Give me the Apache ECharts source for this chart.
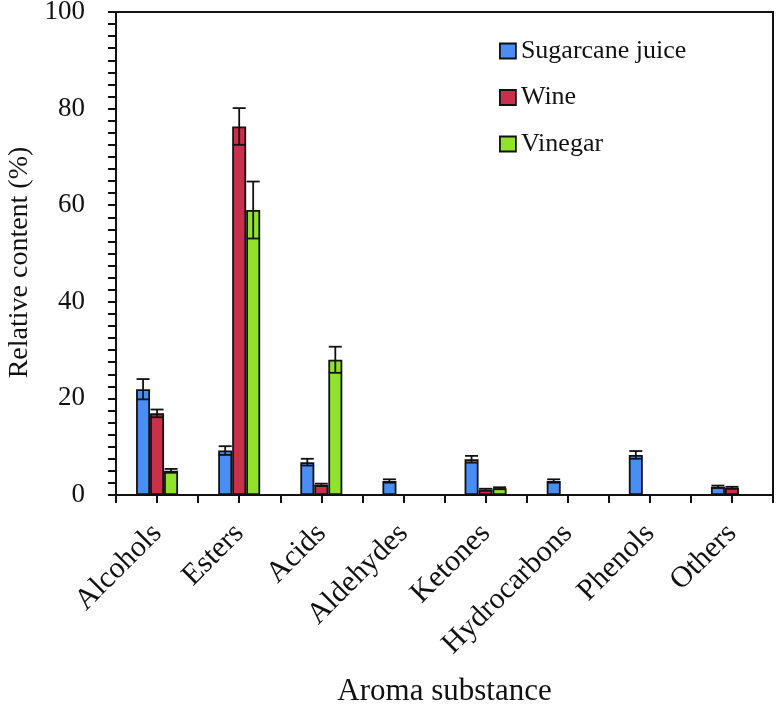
<!DOCTYPE html>
<html><head><meta charset="utf-8">
<script src="https://cdn.jsdelivr.net/npm/echarts@6/dist/echarts.min.js"></script>
<style>html,body{margin:0;padding:0;background:#fff}#c{width:776px;height:704px}</style>
</head><body><div id="c"></div>
<script>
const categories = ['Alcohols','Esters','Acids','Aldehydes','Ketones','Hydrocarbons','Phenols','Others'];
const seriesNames = ['Sugarcane juice','Wine','Vinegar'];
const sugarcane = [21.9, 9.2, 6.8, 2.9, 7.4, 2.9, 8.3, 1.7];
const sugarcaneErr = [2.1, 0.9, 0.7, 0.35, 0.7, 0.35, 0.8, 0.25];
const wine = [16.9, 76.3, 2.1, null, 1.1, null, null, 1.5];
const wineErr = [0.8, 3.8, 0.25, 0, 0.2, 0, 0, 0.2];
const vinegar = [5.0, 59.0, 28.0, null, 1.4, null, null, null];
const vinegarErr = [0.4, 5.9, 2.7, 0, 0.2, 0, 0, 0];
const yTicks = [0, 20, 40, 60, 80, 100];

const colors = ['#4a8df5', '#c8304b', '#90e22b'];
const FONT = '"Liberation Serif", "Times New Roman", serif';
const BAR_W = 14;

const values = [sugarcane, wine, vinegar];
const errs = [sugarcaneErr, wineErr, vinegarErr];

const chart = echarts.init(document.getElementById('c'), null, {renderer: 'canvas'});

const series = [];
values.forEach((vals, k) => {
  series.push({
    name: seriesNames[k], type: 'bar', xAxisIndex: 0, yAxisIndex: 0,
    data: vals, barWidth: BAR_W, barGap: '0%',
    itemStyle: {color: colors[k], borderColor: '#111', borderWidth: 1.8},
    z: 2
  });
});
values.forEach((vals, k) => {
  series.push({
    name: 'err' + k, type: 'custom', xAxisIndex: 0, yAxisIndex: 0, z: 10,
    data: vals.map((v, i) => [i, v == null ? 0 : v, errs[k][i]]),
    encode: {x: 0, y: 1},
    renderItem: function (params, api) {
      const i = api.value(0), v = api.value(1), e = api.value(2);
      if (!e) return null;
      const off = (k - 1) * BAR_W;
      const top = api.coord([i, v + e]);
      const bot = api.coord([i, v - e]);
      const x = top[0] + off;
      const hw = BAR_W / 2 - 0.5;
      const st = {stroke: '#111', lineWidth: 1.8};
      return {type: 'group', children: [
        {type: 'line', shape: {x1: x, y1: top[1], x2: x, y2: bot[1]}, style: st},
        {type: 'line', shape: {x1: x - hw, y1: top[1], x2: x + hw, y2: top[1]}, style: st},
        {type: 'line', shape: {x1: x - hw, y1: bot[1], x2: x + hw, y2: bot[1]}, style: st}
      ]};
    },
    silent: true
  });
});

chart.setOption({
  animation: false,
  backgroundColor: '#fff',
  grid: {left: 116, right: 3, top: 12, bottom: 209, show: true, borderColor: '#111', borderWidth: 2,
         containLabel: false, outerBoundsMode: 'none'},
  legend: {
    data: seriesNames, orient: 'vertical', left: 494, top: 33,
    itemWidth: 16, itemHeight: 15, itemGap: 20.5, icon: 'rect',
    textStyle: {fontFamily: FONT, fontSize: 26, lineHeight: 26, color: '#111'},
    itemStyle: {borderColor: '#111', borderWidth: 1.8}
  },
  xAxis: [{
    type: 'category', data: categories, position: 'bottom',
    name: 'Aroma substance', nameLocation: 'middle', nameGap: 181,
    nameTextStyle: {fontFamily: FONT, fontSize: 31, color: '#111'},
    axisLine: {lineStyle: {color: '#111', width: 2}},
    axisTick: {show: true, alignWithLabel: false, interval: 0, length: 8, lineStyle: {color: '#111', width: 2}},
    axisLabel: {rotate: 45, interval: 0, fontFamily: FONT, fontSize: 30, color: '#111', margin: 34}
  }, {
    type: 'category', data: categories, position: 'bottom',
    axisLine: {show: false},
    axisTick: {show: true, alignWithLabel: true, interval: 0, length: 8, lineStyle: {color: '#111', width: 2}},
    axisLabel: {show: false}
  }],
  yAxis: {
    type: 'value', min: yTicks[0], max: yTicks[yTicks.length - 1], interval: yTicks[1] - yTicks[0],
    name: 'Relative content (%)', nameLocation: 'middle', nameGap: 74,
    nameTextStyle: {fontFamily: FONT, fontSize: 28, color: '#111', padding: [0, 18, 0, 0]},
    axisLine: {show: true, lineStyle: {color: '#111', width: 2}},
    axisTick: {show: true, length: 8, lineStyle: {color: '#111', width: 2}},
    minorTick: {show: true, splitNumber: 8, length: 8, lineStyle: {color: '#111', width: 2}},
    axisLabel: {fontFamily: FONT, fontSize: 27, color: '#111', margin: 31},
    splitLine: {show: false}
  },
  series: series
});
</script></body></html>
